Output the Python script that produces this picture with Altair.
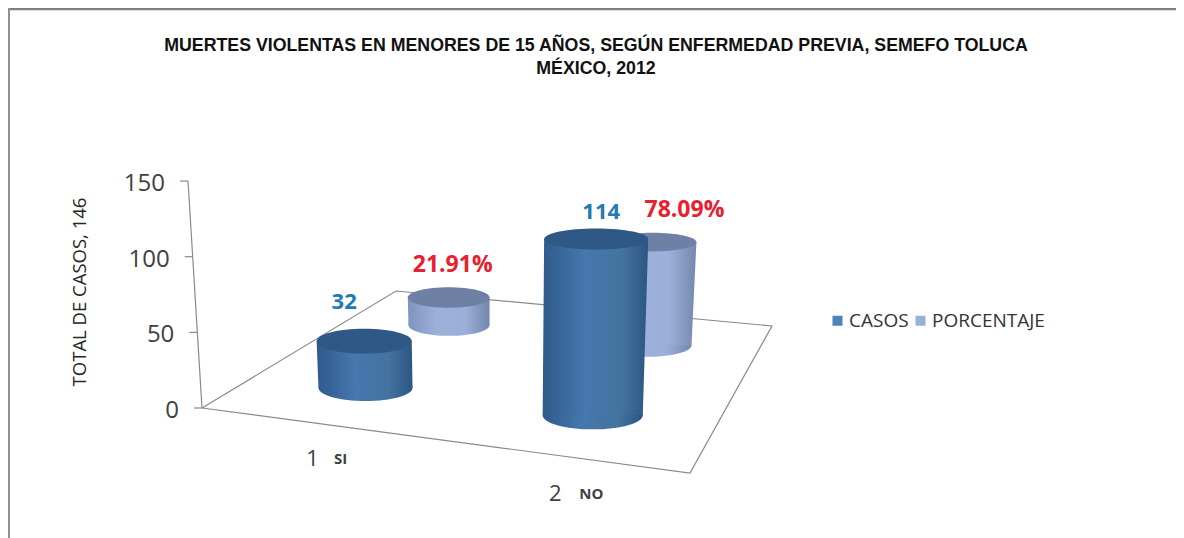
import altair as alt
import pandas as pd

# ---- values
categories = ["1", "2"]
category_names = ["SI", "NO"]
casos = [32, 114]
porcentaje = [21.91, 78.09]
casos_labels = ["32", "114"]
porcentaje_labels = ["21.91%", "78.09%"]
axis_ticks = [0, 50, 100, 150]
title_lines = ["MUERTES VIOLENTAS EN MENORES DE 15 AÑOS, SEGÚN ENFERMEDAD PREVIA, SEMEFO TOLUCA", "MÉXICO, 2012"]
y_title = "TOTAL DE CASOS, 146"
series_names = ["CASOS", "PORCENTAJE"]

# ---- perspective set-up of the 3-D scene (floor corners, in page pixels)
P0, P1, P2, P3 = (202, 408), (690, 473), (772, 326), (396, 291)
UNIT = 1.513      # px per value at the front-left corner
RX_PER_UNIT = 32.4
LEAN = 0.000316
LEAN_X0 = 497
U = {"CASOS": [0.26, 0.758], "PORCENTAJE": [0.254, 0.754]}
V = {"CASOS": 0.232, "PORCENTAJE": 0.74}
PAGE_W, PAGE_H = 1168, 530

dx1, dy1 = P1[0] - P2[0], P1[1] - P2[1]
dx2, dy2 = P3[0] - P2[0], P3[1] - P2[1]
sx, sy = P0[0] - P1[0] + P2[0] - P3[0], P0[1] - P1[1] + P2[1] - P3[1]
det = dx1 * dy2 - dx2 * dy1
g = (sx * dy2 - dx2 * sy) / det
h = (dx1 * sy - sx * dy1) / det
a, b, c = P1[0] - P0[0] + g * P1[0], P3[0] - P0[0] + h * P3[0], P0[0]
d, e, f = P1[1] - P0[1] + g * P1[1], P3[1] - P0[1] + h * P3[1], P0[1]


def project(u, v, value=0.0):
    w = g * u + h * v + 1
    bx, by = (a * u + b * v + c) / w, (d * u + e * v + f) / w
    s = UNIT / w
    return bx + value * (bx - LEAN_X0) * LEAN, by - value * s, s


def ellipse(ratio):
    return f"M-1,0A1,{ratio:.3f} 0 1,1 1,0A1,{ratio:.3f} 0 1,1 -1,0Z"


def cylinder(series, values):
    v = V[series]
    body, base, top = [], [], []
    base_ratio = 0.29 - 0.03 * v
    for i, val in enumerate(values):
        bx, by, s = project(U[series][i], v)
        tx, ty, _ = project(U[series][i], v, val)
        rx = RX_PER_UNIT * s
        rt = rx * (1 + val * 0.00035)
        body.append({"c": i, "y": by, "l": bx - rx, "r": bx + rx})
        body.append({"c": i, "y": ty, "l": tx - rt, "r": tx + rt})
        base.append({"x": bx, "y": by, "size": (2 * rx) ** 2, "shape": ellipse(base_ratio)})
        top.append({"x": tx, "y": ty, "size": (2 * rt) ** 2, "shape": ellipse(base_ratio - 0.0007 * val)})
    return pd.DataFrame(body), pd.DataFrame(base), pd.DataFrame(top)


X = lambda f: alt.X(f, type="quantitative", axis=None, scale=alt.Scale(domain=[8, 8 + PAGE_W], nice=False, zero=False))
Y = lambda f: alt.Y(f, type="quantitative", axis=None, scale=alt.Scale(domain=[8 + PAGE_H, 8], nice=False, zero=False))


def grad(stops):
    return alt.Gradient(gradient="linear", x1=0, x2=1, y1=0, y2=0,
                        stops=[alt.GradientStop(color=col, offset=o) for o, col in stops])


def draw_cylinder(series, values, side, lid):
    body, base, top = cylinder(series, values)
    fill = grad(side)
    return [
        alt.Chart(base).mark_point(filled=True, fill=fill, opacity=1, strokeWidth=0).encode(
            x=X("x"), y=Y("y"), size=alt.Size("size:Q", scale=None), shape=alt.Shape("shape:N", scale=None)),
        alt.Chart(body).mark_area(orient="horizontal", fill=fill, opacity=1).encode(
            y=Y("y"), x=X("l"), x2="r:Q", detail="c:N"),
        alt.Chart(top).mark_point(filled=True, fill=lid, opacity=1, strokeWidth=0).encode(
            x=X("x"), y=Y("y"), size=alt.Size("size:Q", scale=None), shape=alt.Shape("shape:N", scale=None)),
    ]


def text_layer(rows, color, size, weight="normal", font="Open Sans", align="center", angle=None):
    kw = {"angle": angle} if angle is not None else {}
    return alt.Chart(pd.DataFrame(rows)).mark_text(
        color=color, fontSize=size, fontWeight=weight, font=font, align=align, baseline="middle", **kw
    ).encode(x=X("x"), y=Y("y"), text="t:N")


layers = []

# frame of the picture
frame = pd.DataFrame([{"x": 8, "y": 9, "x2": 8 + PAGE_W, "y2": 9}])
layers.append(alt.Chart(frame).mark_rule(color="#808080", strokeWidth=2.5).encode(x=X("x"), y=Y("y"), x2="x2:Q"))
frame2 = pd.DataFrame([{"x": 9, "y": 8, "y2": 8 + PAGE_H}])
layers.append(alt.Chart(frame2).mark_rule(color="#909090", strokeWidth=2).encode(x=X("x"), y=Y("y"), y2="y2:Q"))

# floor
corners = [(0, 0), (1, 0), (1, 1), (0, 1), (0, 0)]
floor = pd.DataFrame([{"i": i, "x": project(u, v)[0], "y": project(u, v)[1]} for i, (u, v) in enumerate(corners)])
layers.append(alt.Chart(floor).mark_line(color="#8a8a8a", strokeWidth=1.2).encode(x=X("x"), y=Y("y"), order="i:Q"))

# slanted value axis, ticks and labels
ax_rows = []
for t in axis_ticks:
    px, py, _ = project(0, 0, t)
    ax_rows.append({"x": px, "y": py, "xl": px - 8, "t": str(t), "xt": px - 23, "yt": py + 3})
ax = pd.DataFrame(ax_rows)
layers.append(alt.Chart(ax).mark_line(color="#8a8a8a", strokeWidth=1.2).encode(x=X("x"), y=Y("y"), order="y:Q"))
layers.append(alt.Chart(ax).mark_rule(color="#8a8a8a", strokeWidth=1.2).encode(x=X("x"), x2="xl:Q", y=Y("y")))
layers.append(alt.Chart(ax).mark_text(color="#404040", fontSize=24, font="Open Sans", align="right", baseline="middle").encode(
    x=X("xt"), y=Y("yt"), text="t:N"))

# cylinders (back row first)
layers += draw_cylinder("PORCENTAJE", porcentaje,
                        [(0, "#7f94bd"), (0.35, "#9db0d9"), (0.7, "#9bafd8"), (1, "#7488ad")], "#6e80a3")
layers += draw_cylinder("CASOS", casos,
                        [(0, "#2f5a8c"), (0.4, "#4677ae"), (0.75, "#44739f"), (1, "#2c5583")], "#2f5886")

# data labels
lab_off_c = [(-20, -39), (5, -27)]
lab_off_p = [(4, -33), (32, -32)]
rows_c, rows_p = [], []
for i in range(2):
    tx, ty, _ = project(U["CASOS"][i], V["CASOS"], casos[i])
    rows_c.append({"x": tx + lab_off_c[i][0], "y": ty + lab_off_c[i][1], "t": casos_labels[i]})
    tx, ty, _ = project(U["PORCENTAJE"][i], V["PORCENTAJE"], porcentaje[i])
    rows_p.append({"x": tx + lab_off_p[i][0], "y": ty + lab_off_p[i][1], "t": porcentaje_labels[i]})
layers.append(text_layer(rows_c, "#1f7ab5", 22, "bold"))
layers.append(text_layer(rows_p, "#e8202f", 23, "bold"))

# category labels, hung below the front floor edge
rows_n, rows_s = [], []
cat_off = [(-4, 36), (-4, 38)]
name_off = [28, 36]
for i in range(2):
    px, py, _ = project(U["CASOS"][i], 0)
    rows_n.append({"x": px + cat_off[i][0], "y": py + cat_off[i][1], "t": categories[i]})
    rows_s.append({"x": px + cat_off[i][0] + name_off[i], "y": py + cat_off[i][1], "t": category_names[i]})
layers.append(text_layer(rows_n, "#404040", 22))
layers.append(text_layer(rows_s, "#404040", 15, "bold"))

# y title
layers.append(text_layer([{"x": 80, "y": 292, "t": y_title}], "#262626", 18.5, angle=270))

# legend
leg = pd.DataFrame({"s": series_names, "x": [840, 840], "y": [320, 320]})
layers.append(alt.Chart(leg).mark_point(filled=True, size=0, opacity=1).encode(
    x=X("x"), y=Y("y"),
    color=alt.Color("s:N", sort=series_names, scale=alt.Scale(domain=series_names, range=["#4f81bd", "#9bb0d8"]),
                    legend=alt.Legend(orient="none", legendX=820, legendY=303, direction="horizontal", columns=2,
                                      title=None, symbolType="square", symbolSize=100, symbolOpacity=1,
                                      labelFontSize=19, labelFont="Open Sans", labelColor="#333333",
                                      columnPadding=2, labelOffset=2, symbolStrokeWidth=0))))

chart = alt.layer(*layers).properties(
    width=PAGE_W, height=PAGE_H, padding=0, autosize=alt.AutoSizeParams(type="none"),
    title=alt.TitleParams(text=title_lines, font="Liberation Sans", fontSize=17.75, fontWeight="bold", color="#111111",
                          anchor="middle", dx=4, offset=-71, baseline="top", lineHeight=23),
).configure_view(stroke=None).resolve_scale(shape="independent", size="independent")

chart.save("out.html", embed_options={"renderer": "svg", "actions": False})
